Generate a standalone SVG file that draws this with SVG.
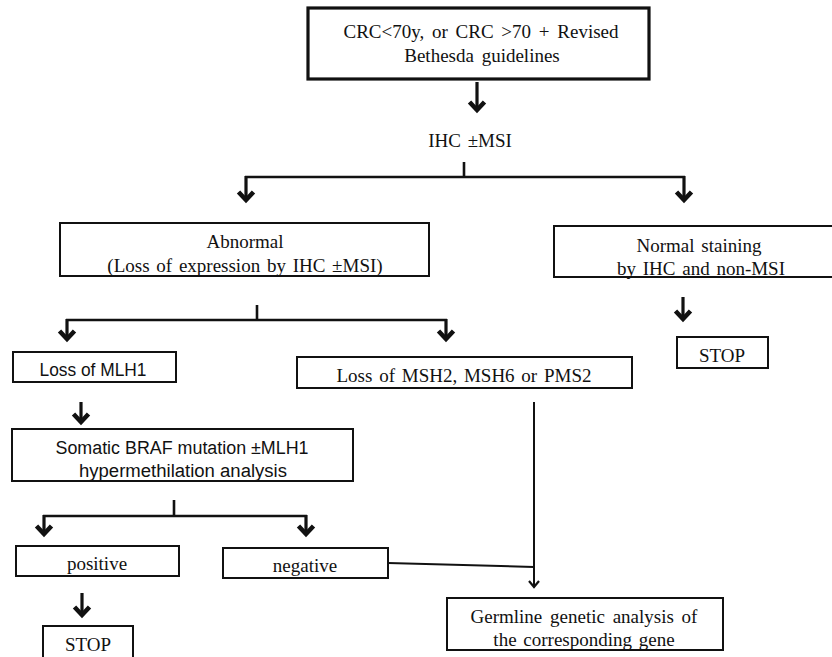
<svg xmlns="http://www.w3.org/2000/svg" width="832" height="657" viewBox="0 0 832 657">
<defs>
<style>
.box{fill:#fff;stroke:#111;stroke-width:2}
.thick{stroke-width:3.2}
.s{font-family:"Liberation Serif","Times New Roman",serif;font-size:19px;fill:#111;text-anchor:middle}
.ss{font-family:"Liberation Sans",Arial,sans-serif;font-size:18px;fill:#111;text-anchor:middle}
.ln{fill:none;stroke:#111;stroke-width:2.6}
.ar{fill:none;stroke:#111;stroke-width:3.2;marker-end:url(#chev)}
.thin{fill:none;stroke:#111;stroke-width:2}
</style>
<marker id="chev" markerUnits="userSpaceOnUse" markerWidth="24" markerHeight="24" viewBox="0 0 24 24" refX="12" refY="12" orient="auto" overflow="visible">
<path d="M4,4.5 L12,12 L4,19.5" fill="none" stroke="#111" stroke-width="4.6" stroke-linejoin="miter"/>
</marker>
<marker id="small" markerUnits="userSpaceOnUse" markerWidth="16" markerHeight="16" viewBox="0 0 16 16" refX="8" refY="8" orient="auto" overflow="visible">
<path d="M2,3 L8,8 L2,13" fill="none" stroke="#111" stroke-width="2.2"/>
</marker>
</defs>
<rect width="832" height="657" fill="#fff"/>

<g id="connectors">
<path class="ar" d="M477,82 V110"/>
<path class="ln" d="M464,162 V177 M245,177 H685"/>
<path class="ar" d="M246,176 V200"/>
<path class="ar" d="M684,176 V200"/>
<path class="ln" d="M257,305 V320 M66,320 H447"/>
<path class="ar" d="M67,319 V339"/>
<path class="ar" d="M446,319 V339"/>
<path class="ar" d="M683,297 V319"/>
<path class="ar" d="M81,402 V422"/>
<path class="ln" d="M174,500 V516 M43,516 H307"/>
<path class="ar" d="M44,515 V534"/>
<path class="ar" d="M306,515 V534"/>
<path class="ar" d="M82,593 V615"/>
<path class="thin" d="M388,563 L534,567"/>
<path class="thin" d="M534,402 V587" marker-end="url(#small)"/>
</g>

<g id="n-start">
<rect class="box thick" x="308" y="8" width="341" height="71"/>
<text class="s" x="481" y="38" word-spacing="3">CRC&lt;70y, or CRC &gt;70 + Revised</text>
<text class="s" x="482" y="62" word-spacing="3">Bethesda guidelines</text>
</g>

<g id="n-ihc">
<text class="s" x="470" y="147" word-spacing="2">IHC ±MSI</text>
</g>

<g id="n-abnormal">
<rect class="box" x="60" y="223" width="369" height="53"/>
<text class="s" x="245" y="248">Abnormal</text>
<text class="s" x="245" y="272" word-spacing="2">(Loss of expression by IHC ±MSI)</text>
</g>

<g id="n-normal">
<rect class="box" x="554" y="226" width="280" height="51"/>
<text class="s" x="699" y="252" word-spacing="2">Normal staining</text>
<text class="s" x="701" y="275" word-spacing="2">by IHC and non-MSI</text>
</g>

<g id="n-stop1">
<rect class="box" x="677" y="337" width="91" height="31"/>
<text class="s" x="722" y="362">STOP</text>
</g>

<g id="n-mlh1">
<rect class="box" x="13" y="352" width="163" height="30"/>
<text class="ss" x="93" y="376" textLength="107" lengthAdjust="spacingAndGlyphs">Loss of MLH1</text>
</g>

<g id="n-msh2">
<rect class="box" x="297" y="357" width="335" height="31"/>
<text class="s" x="464" y="382" word-spacing="2">Loss of MSH2, MSH6 or PMS2</text>
</g>

<g id="n-somatic">
<rect class="box" x="12" y="429" width="341" height="52"/>
<text class="ss" x="182" y="454" textLength="253" lengthAdjust="spacingAndGlyphs">Somatic BRAF mutation ±MLH1</text>
<text class="ss" x="183" y="477" textLength="208" lengthAdjust="spacingAndGlyphs">hypermethilation analysis</text>
</g>

<g id="n-positive">
<rect class="box" x="16" y="546" width="163" height="30"/>
<text class="s" x="97" y="570">positive</text>
</g>

<g id="n-negative">
<rect class="box" x="223" y="548" width="165" height="30"/>
<text class="s" x="305" y="572">negative</text>
</g>

<g id="n-stop2">
<rect class="box" x="43" y="626" width="90" height="40"/>
<text class="s" x="88" y="651">STOP</text>
</g>

<g id="n-germline">
<rect class="box" x="447" y="598" width="276" height="52"/>
<text class="s" x="584" y="623" word-spacing="3">Germline genetic analysis of</text>
<text class="s" x="584" y="646" word-spacing="2">the corresponding gene</text>
</g>
</svg>
